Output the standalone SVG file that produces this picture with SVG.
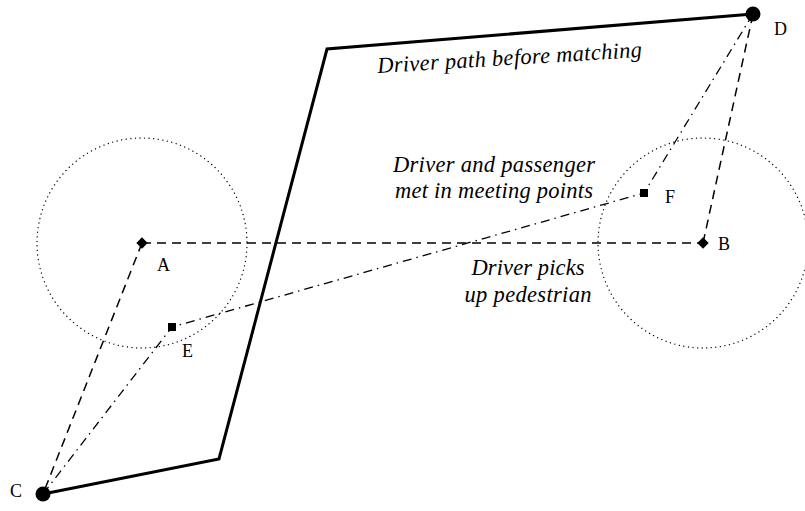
<svg xmlns="http://www.w3.org/2000/svg" width="805" height="511" viewBox="0 0 805 511">
<style>
.dash{fill:none;stroke:#000;stroke-width:1.5;stroke-dasharray:9,6}
.dd{fill:none;stroke:#000;stroke-width:1.3;stroke-dasharray:9,5,1.5,5}
.dot{fill:none;stroke:#000;stroke-width:1.3;stroke-dasharray:0.1,4.5;stroke-linecap:round}
.path{fill:none;stroke:#000;stroke-width:3;stroke-linejoin:miter}
</style>
<rect width="805" height="511" fill="#fff"/>
<g id="circles">
<circle class="dot" cx="142" cy="243" r="105"/>
<circle class="dot" cx="703" cy="243" r="105"/>
</g>
<g id="connectors">
<polyline class="path" points="43,494 219,459 327,49 753,14"/>
<line class="dash" x1="142" y1="243" x2="703" y2="243"/>
<line class="dash" x1="142" y1="243" x2="43" y2="494"/>
<line class="dash" x1="703" y1="243" x2="753" y2="14"/>
<polyline class="dd" points="43,494 172,327 644,193 753,14"/>
</g>
<g font-family="'Liberation Serif', 'Times New Roman', serif" font-size="18" fill="#000">
<g id="A"><rect x="138" y="239" width="8" height="8" transform="rotate(45 142 243)"/><text x="157" y="271">A</text></g>
<g id="B"><rect x="699" y="239" width="8" height="8" transform="rotate(45 703 243)"/><text x="718" y="250">B</text></g>
<g id="C"><circle cx="43" cy="494" r="7.5"/><text x="10" y="497">C</text></g>
<g id="D"><circle cx="753" cy="14" r="7.5"/><text x="774" y="35">D</text></g>
<g id="E"><rect x="168" y="323" width="8" height="8"/><text x="182" y="357">E</text></g>
<g id="F"><rect x="640" y="189" width="8" height="8"/><text x="665" y="203">F</text></g>
</g>
<g id="labels" font-family="'Liberation Serif', 'Times New Roman', serif" font-size="22.5" font-style="italic" fill="#000" text-anchor="middle" lengthAdjust="spacing">
<text x="510" y="65" transform="rotate(-3.5 510 65)" textLength="265">Driver path before matching</text>
<text x="494" y="172" textLength="202">Driver and passenger</text>
<text x="494" y="198" textLength="198">met in meeting points</text>
<text x="528" y="275" textLength="113">Driver picks</text>
<text x="528" y="302" textLength="127">up pedestrian</text>
</g>
</svg>
